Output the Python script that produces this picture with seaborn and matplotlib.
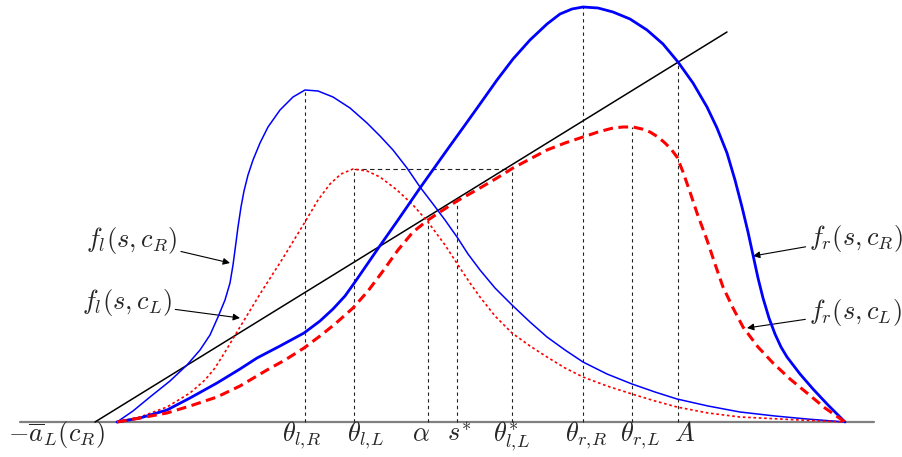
import matplotlib
matplotlib.use("Agg")
import matplotlib.pyplot as plt
import numpy as np
import pandas as pd
import seaborn as sns

# curve samples: s position and picture row (0 = top, axis at row 422)
flR_s = [117, 133, 150, 170, 187, 200, 210, 218, 225, 230, 233, 235, 238, 241, 244, 248, 253, 260, 268,
         280, 293, 305, 318, 333, 350, 367, 380, 393, 407, 420, 433, 445, 457, 468, 480, 495, 512, 530,
         547, 565, 583, 607, 632, 655, 677, 708, 740, 775, 807, 845]
flR_r = [422, 411, 397, 381, 365, 350, 335, 317, 300, 283, 265, 250, 227, 207, 191, 175, 160, 143, 127,
         110, 97, 90, 91, 97, 108, 123, 136, 150, 168, 187, 204, 220, 237, 254, 270, 288, 305, 322,
         337, 350, 362, 374, 384, 392, 399, 406, 412, 416, 419, 422]

flL_s = [117, 140, 167, 190, 205, 215, 225, 240, 260, 283, 305, 318, 330, 341, 353, 367, 380, 397, 413,
         428, 445, 460, 470, 480, 495, 512, 530, 547, 565, 583, 607, 632, 655, 677, 708, 740, 800, 845]
flL_r = [422, 417, 407, 393, 380, 368, 352, 327, 294, 258, 222, 200, 184, 174, 169, 171, 177, 190, 205,
         222, 245, 268, 283, 297, 316, 333, 346, 357, 368, 377, 386, 394, 401, 407, 413, 417, 420, 422]

frR_s = [117, 140, 167, 190, 217, 240, 257, 280, 304, 320, 333, 345, 355, 366, 377, 398, 420, 447, 465,
         480, 497, 513, 530, 547, 560, 572, 583, 598, 613, 630, 647, 663, 678, 693, 707, 717, 727, 735,
         742, 748, 753, 758, 763, 769, 775, 781, 787, 800, 813, 828, 845]
frR_r = [422, 418, 410, 398, 383, 369, 358, 346, 333, 321, 309, 296, 282, 266, 250, 220, 188, 150, 125,
         104, 80, 59, 40, 24, 14, 9, 7, 8, 12, 19, 30, 44, 62, 83, 107, 128, 153, 180,
         207, 232, 255, 278, 298, 318, 334, 347, 357, 374, 389, 405, 422]

frL_s = [117, 140, 167, 190, 217, 240, 267, 285, 304, 320, 335, 353, 368, 383, 398, 413, 428, 440, 457,
         480, 497, 513, 530, 547, 565, 583, 598, 613, 623, 633, 642, 650, 658, 665, 671, 677, 683, 690,
         697, 707, 715, 723, 733, 743, 758, 773, 790, 807, 825, 845]
frL_r = [422, 418, 413, 406, 397, 386, 370, 360, 348, 336, 324, 308, 291, 271, 250, 232, 220, 212, 201,
         188, 178, 168, 159, 150, 143, 137, 132, 128, 127, 127, 129, 132, 137, 143, 149, 157, 172, 192,
         213, 240, 264, 287, 308, 327, 347, 363, 379, 393, 408, 422]

line_s = [95, 727]
line_r = [422, 32]

# marked points on the s axis and the rows where their guide lines stop
mark_s = [305, 354, 428, 457, 512, 583, 632, 678]
mark_top = [90, 169, 218, 200, 169, 7, 127, 62]
mark_labels = [r"$\theta_{l,\!R}$", r"$\theta_{l,\!L}$", r"$\alpha$", r"$s^{*}$",
               r"$\theta^{*}_{l,\!L}$", r"$\theta_{r,\!R}$", r"$\theta_{r,\!L}$", r"$A$"]
label_s = [302, 366, 421, 459, 512, 586, 640, 685]

base = 422


def h(rows):
    return [base - r for r in rows]


sns.set_theme(style="white")
plt.rcParams["mathtext.fontset"] = "cm"

fig = plt.figure(figsize=(9.03, 4.57), dpi=100)
ax = fig.add_axes([0, 0, 1, 1])
ax.set_xlim(0, 903)
ax.set_ylim(base - 457, base)
ax.axis("off")

ax.axhline(0, xmin=20 / 903, xmax=874 / 903, color="#808080", lw=1.6, zorder=1)

ax.vlines(mark_s, 0, h(mark_top), colors="#222222", lw=0.8, linestyles=(0, (3, 3)), zorder=2)
ax.hlines(base - mark_top[1], mark_s[1], mark_s[4], colors="#222222", lw=0.8,
          linestyles=(0, (4, 3)), zorder=2)

sns.lineplot(x=line_s, y=h(line_r), ax=ax, color="black", lw=1.1, sort=False, estimator=None, zorder=3)
sns.lineplot(x=flR_s, y=h(flR_r), ax=ax, color="#0000ff", lw=1.1, sort=False, estimator=None, zorder=4)
sns.lineplot(x=flL_s, y=h(flL_r), ax=ax, color="#ff0000", lw=1.2, ls=(0, (1.6, 1.6)),
             sort=False, estimator=None, zorder=4)
sns.lineplot(x=frR_s, y=h(frR_r), ax=ax, color="#0000ff", lw=2.0, sort=False, estimator=None, zorder=5)
sns.lineplot(x=frL_s, y=h(frL_r), ax=ax, color="#ff0000", lw=2.2, ls=(0, (3.2, 1.8)),
             sort=False, estimator=None, zorder=5)

fs = 19
for xs, lab in zip(label_s, mark_labels):
    ax.text(xs, base - 441, lab, ha="center", va="baseline", fontsize=fs)
ax.text(56, base - 441, r"$-\overline{a}_L(c_R)$", ha="center", va="baseline", fontsize=fs)

arrow = dict(arrowstyle="-|>", color="black", lw=0.8, mutation_scale=10, shrinkA=0, shrinkB=0)
ax.annotate(r"$f_l(s,c_R)$", xy=(230, base - 263), xytext=(132, base - 240),
            ha="center", va="center", fontsize=fs, arrowprops=arrow)
ax.annotate(r"$f_l(s,c_L)$", xy=(240, base - 318), xytext=(127, base - 303),
            ha="center", va="center", fontsize=fs, arrowprops=arrow)
ax.annotate(r"$f_r(s,c_R)$", xy=(753, base - 256), xytext=(856, base - 238),
            ha="center", va="center", fontsize=fs, arrowprops=arrow)
ax.annotate(r"$f_r(s,c_L)$", xy=(747, base - 328), xytext=(855, base - 312),
            ha="center", va="center", fontsize=fs, arrowprops=arrow)

plt.savefig("out.png", dpi=100)
